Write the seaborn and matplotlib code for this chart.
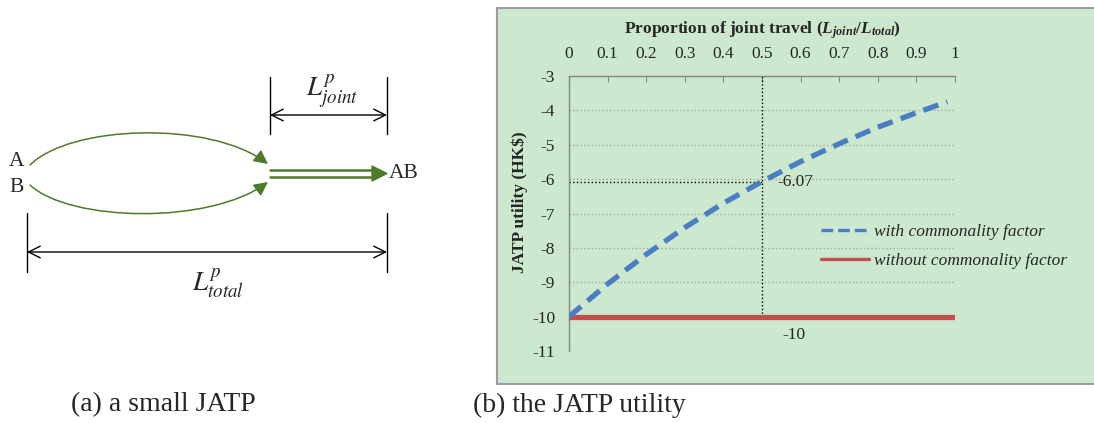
import matplotlib
matplotlib.use("Agg")
import matplotlib.pyplot as plt
import seaborn as sns
from matplotlib.patches import FancyArrowPatch, Polygon, Rectangle
from matplotlib.path import Path
from matplotlib.lines import Line2D

# values
proportion = [0.0, 0.1, 0.2, 0.3, 0.4, 0.5, 0.6, 0.7, 0.8, 0.9, 0.98]
with_factor = [-10.0, -9.05, -8.19, -7.41, -6.70, -6.07, -5.49, -4.97, -4.49, -4.07, -3.75]
flat_proportion = [0.0, 1.0]
without_factor = [-10.0, -10.0]
marker_x = 0.5
marker_y = -6.07

x_ticks = [0, 0.1, 0.2, 0.3, 0.4, 0.5, 0.6, 0.7, 0.8, 0.9, 1]
x_labels = ['0', '0.1', '0.2', '0.3', '0.4', '0.5', '0.6', '0.7', '0.8', '0.9', '1']
y_ticks = [-3, -4, -5, -6, -7, -8, -9, -10, -11]
y_labels = ['-3', '-4', '-5', '-6', '-7', '-8', '-9', '-10', '-11']
series_labels = ['with commonality factor', 'without commonality factor']

blue = '#4A7DC2'
red = '#C0504D'
green = '#4E7B2A'
axis_gray = '#868686'

sns.set_style('white')
plt.rcParams['font.family'] = ['Liberation Serif', 'DejaVu Serif']
plt.rcParams['mathtext.fontset'] = 'custom'
plt.rcParams['mathtext.it'] = 'Liberation Serif:italic:bold'
plt.rcParams['mathtext.rm'] = 'Liberation Serif:bold'
plt.rcParams['mathtext.bf'] = 'Liberation Serif:bold'

fig = plt.figure(figsize=(10.94, 4.23), dpi=100)

# background layer in pixel units: diagram (a), captions, green panel
bg = fig.add_axes([0, 0, 1, 1])
bg.set_xlim(0, 1094)
bg.set_ylim(423, 0)
bg.axis('off')

bg.add_patch(Rectangle((497, 8), 620, 376, facecolor='#CCE8CF',
                       edgecolor='#9C9C9C', lw=1.5, zorder=0))

upper = Path([(30, 165), (70, 125), (210, 120), (268, 164)],
             [Path.MOVETO, Path.CURVE4, Path.CURVE4, Path.CURVE4])
lower = Path([(30, 185), (70, 222), (210, 225), (268, 182)],
             [Path.MOVETO, Path.CURVE4, Path.CURVE4, Path.CURVE4])
for p in (upper, lower):
    bg.add_patch(FancyArrowPatch(path=p, arrowstyle='-|>,head_length=0.6,head_width=0.3',
                                 mutation_scale=14, color=green, lw=1.1))

bg.plot([270, 374], [170, 170], color=green, lw=1.8)
bg.plot([270, 374], [177, 177], color=green, lw=1.8)
bg.add_patch(Polygon([(372, 166), (387, 173.5), (372, 181)], closed=True, color=green))

# dimension lines
for x in (270, 387):
    bg.plot([x, x], [77, 134], color='k', lw=1)
for x in (27, 387):
    bg.plot([x, x], [213, 272], color='k', lw=1)
bg.add_patch(FancyArrowPatch((270, 115), (387, 115), arrowstyle='<->,head_length=0.6,head_width=0.3',
                             mutation_scale=14, color='k', lw=1, shrinkA=0, shrinkB=0))
bg.add_patch(FancyArrowPatch((27, 252), (387, 252), arrowstyle='<->,head_length=0.6,head_width=0.3',
                             mutation_scale=14, color='k', lw=1, shrinkA=0, shrinkB=0))

bg.text(17, 162, 'A', fontsize=15.5, ha='center', va='center')
bg.text(17, 187, 'B', fontsize=15.5, ha='center', va='center')
bg.text(404, 173, 'AB', fontsize=15.5, ha='center', va='center')
bg.text(332, 91, r'$L^{p}_{joint}$', fontsize=19.5, math_fontfamily='stix', ha='center', va='center')
bg.text(218, 284, r'$L^{p}_{total}$', fontsize=19.5, math_fontfamily='stix', ha='center', va='center')

bg.text(163, 405, '(a) a small JATP', fontsize=20, ha='center', va='center')
bg.text(579, 405, '(b) the JATP utility', fontsize=20, ha='center', va='center')

# chart (b)
ax = fig.add_axes([569 / 1094, 72 / 423, 386 / 1094, 275 / 423])
ax.set_facecolor('none')

sns.lineplot(x=flat_proportion, y=without_factor, ax=ax, color=red, lw=3.8, zorder=3)
sns.lineplot(x=proportion, y=with_factor, ax=ax, color=blue, lw=3.8,
             linestyle=(0, (3, 1.6)), zorder=4)

ax.vlines(marker_x, without_factor[0], -3, colors='k', linestyles=':', lw=1, zorder=2)
ax.hlines(marker_y, 0, marker_x, colors='k', linestyles=':', lw=1, zorder=2)

ax.annotate(f'{marker_y:.2f}', xy=(marker_x, marker_y), xytext=(15, 0),
            textcoords='offset pixels', ha='left', va='center', fontsize=12.5)
ax.annotate(f'{without_factor[0]:.0f}', xy=(marker_x, without_factor[0]), xytext=(20, -18),
            textcoords='offset pixels', ha='left', va='center', fontsize=12.5)

ax.set_xlim(0, 1)
ax.set_ylim(-11, -3)
ax.set_xticks(x_ticks, x_labels)
ax.set_yticks(y_ticks, y_labels)
ax.xaxis.tick_top()
ax.tick_params(axis='x', direction='in', length=4, color=axis_gray, pad=10, labelsize=12.5)
ax.tick_params(axis='y', direction='in', length=5, color=axis_gray, pad=10, labelsize=12.5)
for side in ('bottom', 'right'):
    ax.spines[side].set_visible(False)
for side in ('top', 'left'):
    ax.spines[side].set_color(axis_gray)
    ax.spines[side].set_linewidth(1)
ax.yaxis.grid(True, linestyle=':', color='#A6A6A6', lw=1)
ax.xaxis.grid(False)

ax.xaxis.set_label_position('top')
ax.set_xlabel(r'Proportion of joint travel ($L_{joint}/L_{total}$)', fontsize=12.5,
              fontweight='bold', labelpad=9)
ax.set_ylabel(r'JATP utility (HK\$)', fontsize=12.5, fontweight='bold', labelpad=3)
ax.yaxis.label.set_y(0.54)

handles = [Line2D([], [], color=blue, lw=2.4, linestyle=(0, (3.5, 1.5))),
           Line2D([], [], color=red, lw=2.4)]
ax.legend(handles, series_labels, loc='upper left', bbox_to_anchor=(0.653, 0.463),
          frameon=False, prop={'style': 'italic', 'size': 12.5}, handlelength=2.75,
          handletextpad=0.3, labelspacing=0.75, borderpad=0, borderaxespad=0)

fig.savefig('out.png', dpi=100)
